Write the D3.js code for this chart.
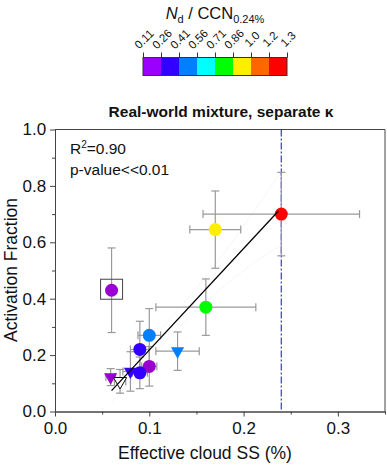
<!DOCTYPE html>
<html>
<head>
<meta charset="utf-8">
<script src="https://cdn.jsdelivr.net/npm/d3@7"></script>
<style>
  body { margin: 0; background: #fff; }
  svg { font-family: "Liberation Sans", Arial, sans-serif; }
</style>
</head>
<body>
<svg id="canvas" width="387" height="467"></svg>
<script>
// colour bins for Nd / CCN
const binLabels = ['0.11', '0.26', '0.41', '0.56', '0.71', '0.86', '1.0', '1.2', '1.3'];
const binColors = ['#9900ff', '#3300ff', '#0080ff', '#00ffff', '#00ff00', '#ffee00', '#ff6600', '#ff0000'];

// circles
const circX    = [0.06, 0.10, 0.09, 0.10, 0.09, 0.16, 0.17, 0.24];
const circY    = [0.43, 0.27, 0.22, 0.16, 0.137, 0.37, 0.645, 0.70];
const circXErr = [0, 0.012, 0.01, 0.008, 0.008, 0.053, 0.027, 0.083];
const circYErr = [0.15, 0.095, 0.10, 0.07, 0.056, 0.10, 0.137, 0.148];
const circFill = ['#9a00d0', '#0080ff', '#3300ff', '#9a00d0', '#3300ff', '#00ff00', '#ffee00', '#ff0000'];

// inverted triangles
const triX    = [0.059, 0.069, 0.08, 0.13];
const triY    = [0.122, 0.107, 0.142, 0.214];
const triXErr = [0.005, 0.006, 0.008, 0.023];
const triYErr = [0.03, 0.042, 0.07, 0.068];
const triFill = ['#9a00d0', '#ffffff', '#3300ff', '#0080ff'];

// regression fit
const fitX = [0.06, 0.237];
const fitSlope = 3.6, fitIntercept = -0.142;
const ssLine = 0.24;

let canvas = d3.select('#canvas');

let x = d3.scaleLinear().domain([0, 0.35]).range([55, 385]);
let y = d3.scaleLinear().domain([0, 1]).range([411.5, 129.5]);

// axes
let xAxis = d3.axisBottom(x).tickValues([0, 0.1, 0.2, 0.3]).tickFormat(d3.format('.1f')).tickSize(5).tickSizeOuter(0);
let yAxis = d3.axisLeft(y).tickValues([0, 0.2, 0.4, 0.6, 0.8, 1.0]).tickFormat(d3.format('.1f')).tickSize(5).tickSizeOuter(0);
let xMinor = d3.axisBottom(x).tickValues([0.05, 0.15, 0.25, 0.35]).tickFormat('').tickSize(3).tickSizeOuter(0);
let yMinor = d3.axisLeft(y).tickValues([0.1, 0.3, 0.5, 0.7, 0.9]).tickFormat('').tickSize(3).tickSizeOuter(0);

let gx = canvas.append('g').attr('transform', 'translate(0,411.5)').call(xAxis);
canvas.append('g').attr('transform', 'translate(0,411.5)').call(xMinor);
let gy = canvas.append('g').attr('transform', 'translate(55,0)').call(yAxis);
canvas.append('g').attr('transform', 'translate(55,0)').call(yMinor);
canvas.selectAll('.domain, .tick line').attr('stroke', '#444');
gx.selectAll('text').attr('font-size', 17).attr('fill', '#111').attr('dy', '0.85em');
gy.selectAll('text').attr('font-size', 17).attr('fill', '#111').attr('dx', '-0.05em');

// frame top + right
canvas.append('path')
    .attr('d', `M55,${y(1)}H${x(0.35)}V${y(0)}`)
    .attr('fill', 'none').attr('stroke', '#444');

// axis titles
canvas.append('text').attr('x', 205).attr('y', 459).attr('text-anchor', 'middle')
    .attr('font-size', 17.5).attr('fill', '#111').text('Effective cloud SS (%)');
canvas.append('text').attr('transform', 'translate(17,270) rotate(-90)').attr('text-anchor', 'middle')
    .attr('font-size', 17.5).attr('fill', '#111').text('Activation Fraction');

// title
canvas.append('text').attr('x', 221).attr('y', 117).attr('text-anchor', 'middle')
    .attr('font-size', 15.5).attr('font-weight', 'bold').attr('fill', '#111')
    .text('Real-world mixture, separate κ');

// stats text
let stats = canvas.append('text').attr('x', 70).attr('y', 154).attr('font-size', 15.5).attr('fill', '#111');
stats.append('tspan').text('R');
stats.append('tspan').attr('font-size', 10).attr('dy', -6).text('2');
stats.append('tspan').attr('dy', 6).text('=0.90');
canvas.append('text').attr('x', 70).attr('y', 175).attr('font-size', 15.5).attr('fill', '#111').text('p-value<<0.01');

// vertical dash-dot line
canvas.append('line')
    .attr('x1', x(ssLine)).attr('x2', x(ssLine)).attr('y1', y(1)).attr('y2', y(0))
    .attr('stroke', '#3333ee').attr('stroke-width', 1.2).attr('stroke-dasharray', '7,2,2,2');

// faint confidence band
let band = d3.range(0.06, 0.2401, 0.005);
let bandLine = (sign) => d3.line()
    .x(d => x(d))
    .y(d => y(fitSlope * d + fitIntercept + sign * (0.03 + 6 * Math.pow(d - 0.11, 2))));
canvas.append('path').datum(band).attr('d', bandLine(1)).attr('fill', 'none')
    .attr('stroke', '#eeeeee').attr('stroke-dasharray', '1,1');
canvas.append('path').datum(band).attr('d', bandLine(-1)).attr('fill', 'none')
    .attr('stroke', '#eeeeee').attr('stroke-dasharray', '1,1');

// error bars
let drawErr = (xs, ys, xe, ye) => {
    let g = canvas.append('g').attr('stroke', '#999').attr('stroke-width', 1.2);
    xs.forEach((xv, i) => {
        let cx = x(xv), cy = y(ys[i]);
        if (ye[i] > 0) {
            let t = y(ys[i] + ye[i]), b = y(ys[i] - ye[i]);
            g.append('line').attr('x1', cx).attr('x2', cx).attr('y1', t).attr('y2', b);
            g.append('line').attr('x1', cx - 4).attr('x2', cx + 4).attr('y1', t).attr('y2', t);
            g.append('line').attr('x1', cx - 4).attr('x2', cx + 4).attr('y1', b).attr('y2', b);
        }
        if (xe[i] > 0) {
            let l = x(xv - xe[i]), r = x(xv + xe[i]);
            g.append('line').attr('x1', l).attr('x2', r).attr('y1', cy).attr('y2', cy);
            g.append('line').attr('x1', l).attr('x2', l).attr('y1', cy - 4).attr('y2', cy + 4);
            g.append('line').attr('x1', r).attr('x2', r).attr('y1', cy - 4).attr('y2', cy + 4);
        }
    });
};
drawErr(circX, circY, circXErr, circYErr);
drawErr(triX, triY, triXErr, triYErr);

// box around the outlier
canvas.append('rect')
    .attr('x', x(circX[0]) - 11).attr('y', y(circY[0]) - 11).attr('width', 22).attr('height', 20)
    .attr('fill', 'none').attr('stroke', '#444').attr('stroke-width', 1);

// markers
canvas.selectAll('circle.pt')
    .data(circX)
    .enter()
    .append('circle')
    .attr('class', 'pt')
    .attr('cx', (d) => x(d))
    .attr('cy', (d, i) => y(circY[i]))
    .attr('r', 6.5)
    .attr('fill', (d, i) => circFill[i]);

let tri = d3.symbol().type(d3.symbolTriangle).size(75);
canvas.selectAll('path.tri')
    .data(triX)
    .enter()
    .append('path')
    .attr('class', 'tri')
    .attr('d', tri)
    .attr('transform', (d, i) => `translate(${x(d)},${y(triY[i])}) rotate(180)`)
    .attr('fill', (d, i) => triFill[i])
    .attr('stroke', (d, i) => triFill[i] === '#ffffff' ? '#111' : 'none');

// fit line
canvas.append('line')
    .attr('x1', x(fitX[0])).attr('y1', y(fitSlope * fitX[0] + fitIntercept))
    .attr('x2', x(fitX[1])).attr('y2', y(fitSlope * fitX[1] + fitIntercept))
    .attr('stroke', '#000').attr('stroke-width', 1.3);

// colour bar legend
let cb = d3.scaleLinear().domain([0, binColors.length]).range([143, 287]);
canvas.selectAll('rect.bin')
    .data(binColors)
    .enter()
    .append('rect')
    .attr('class', 'bin')
    .attr('x', (d, i) => cb(i))
    .attr('y', 57.5)
    .attr('width', cb(1) - cb(0))
    .attr('height', 18)
    .attr('fill', (d) => d);
canvas.append('rect').attr('x', cb(0)).attr('y', 57.5).attr('width', cb(8) - cb(0)).attr('height', 18)
    .attr('fill', 'none').attr('stroke', '#333');
let cbAxis = d3.axisTop(cb).tickValues(d3.range(binLabels.length)).tickFormat((d) => binLabels[d]).tickSize(5).tickSizeOuter(0);
let gcb = canvas.append('g').attr('transform', 'translate(0,57.5)').call(cbAxis);
gcb.select('.domain').remove();
gcb.selectAll('.tick line').attr('stroke', '#333');
gcb.selectAll('text')
    .attr('font-size', 11.5).attr('fill', '#111')
    .attr('text-anchor', 'middle')
    .attr('transform', 'translate(0.5,-18.5) rotate(-45)')
    .attr('x', 0).attr('y', 0).attr('dy', '0.35em');

let cbTitle = canvas.append('text').attr('x', 215).attr('y', 19).attr('text-anchor', 'middle')
    .attr('font-size', 16.5).attr('fill', '#111');
cbTitle.append('tspan').attr('font-style', 'italic').text('N');
cbTitle.append('tspan').attr('font-size', 11).attr('dy', 4).text('d');
cbTitle.append('tspan').attr('dy', -4).text(' / CCN');
cbTitle.append('tspan').attr('font-size', 11).attr('dy', 4).text('0.24%');
</script>
</body>
</html>
